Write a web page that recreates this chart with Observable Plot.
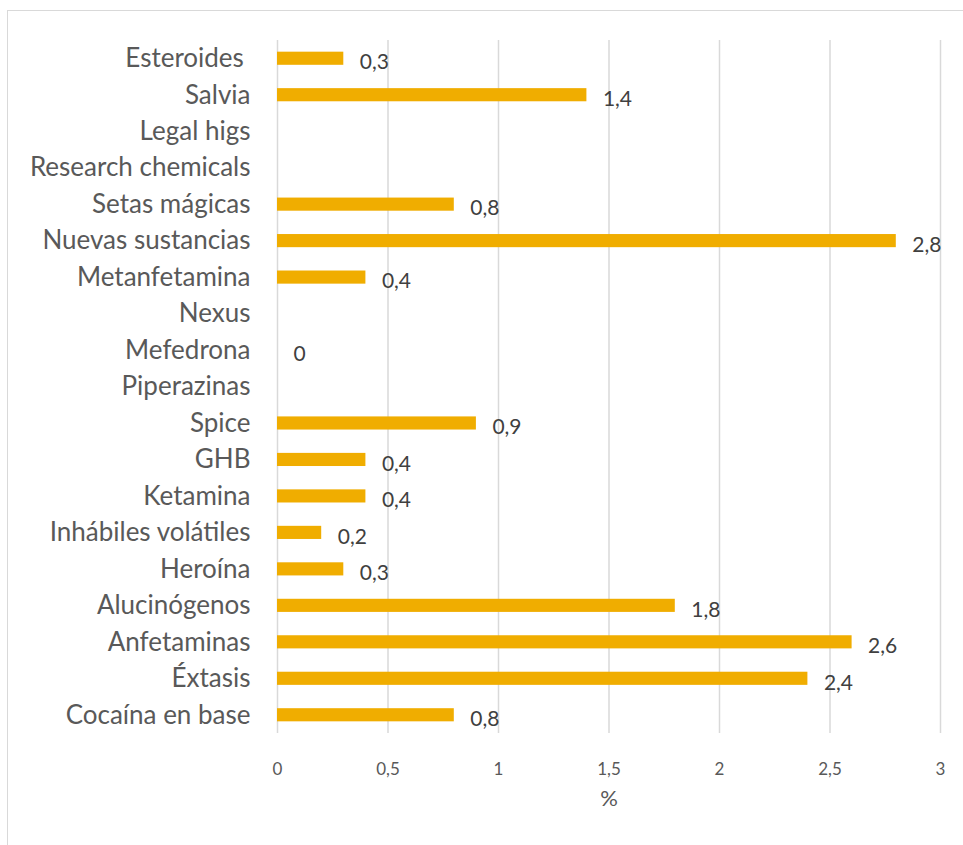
<!DOCTYPE html>
<html><head><meta charset="utf-8">
<script src="https://cdn.jsdelivr.net/npm/d3@7"></script>
<script src="https://cdn.jsdelivr.net/npm/@observablehq/plot@0.6"></script>
<style>
html,body{margin:0;padding:0;background:#fff;}
#wrap{position:relative;width:963px;height:845px;overflow:hidden;}
#frame{position:absolute;left:7px;top:10px;width:980px;height:900px;border:1.5px solid #d9d9d9;box-sizing:border-box;pointer-events:none;}
svg text{white-space:pre;}
</style></head>
<body><div id="wrap"><div id="frame"></div></div>
<script>
const categories = ["Esteroides ","Salvia","Legal higs","Research chemicals","Setas mágicas","Nuevas sustancias","Metanfetamina","Nexus","Mefedrona","Piperazinas","Spice","GHB","Ketamina","Inhábiles volátiles","Heroína","Alucinógenos","Anfetaminas","Éxtasis","Cocaína en base"];
const values = [0.3,1.4,null,null,0.8,2.8,0.4,null,0,null,0.9,0.4,0.4,0.2,0.3,1.8,2.6,2.4,0.8];
const xTicks = [0,0.5,1,1.5,2,2.5,3];
const xLabel = "%";

const data = categories.map((c,i)=>({cat:c, v:values[i]}));
const withVal = data.filter(d=>d.v!==null);
const fmt = d => String(d).replace(".", ",");

const chart = Plot.plot({
  width: 963, height: 845,
  marginLeft: 277, marginRight: 23, marginTop: 40, marginBottom: 112,
  style: {fontFamily: "Lato, sans-serif", color: "#595959", background: "transparent"},
  x: {domain:[0,3], ticks: xTicks, tickFormat: fmt, label: xLabel},
  y: {domain: categories, paddingInner: 0.64, paddingOuter: 0.32, round: false, label: null},
  marks: [
    Plot.gridX(xTicks, {stroke:"#d9d9d9", strokeOpacity:1, strokeWidth:1.5}),
    Plot.barX(withVal, {x:"v", y:"cat", fill:"#f0ad00"}),
    Plot.text(withVal, {x:"v", y:"cat", text: d=>fmt(d.v), textAnchor:"start", dx:16, dy:4, fontSize:21, fill:"#404040"}),
    Plot.axisX({ticks: xTicks, tickFormat: fmt, tickSize:0, tickPadding:29, fontSize:17, label: null}),
    Plot.text([xLabel], {frameAnchor:"bottom", dy:72, text: d=>d, fontSize:22, fill:"#595959"}),
    Plot.axisY({tickSize:0, tickPadding:27, fontSize:26, label:null})
  ]
});
document.getElementById("wrap").prepend(chart);
</script>
</body></html>
